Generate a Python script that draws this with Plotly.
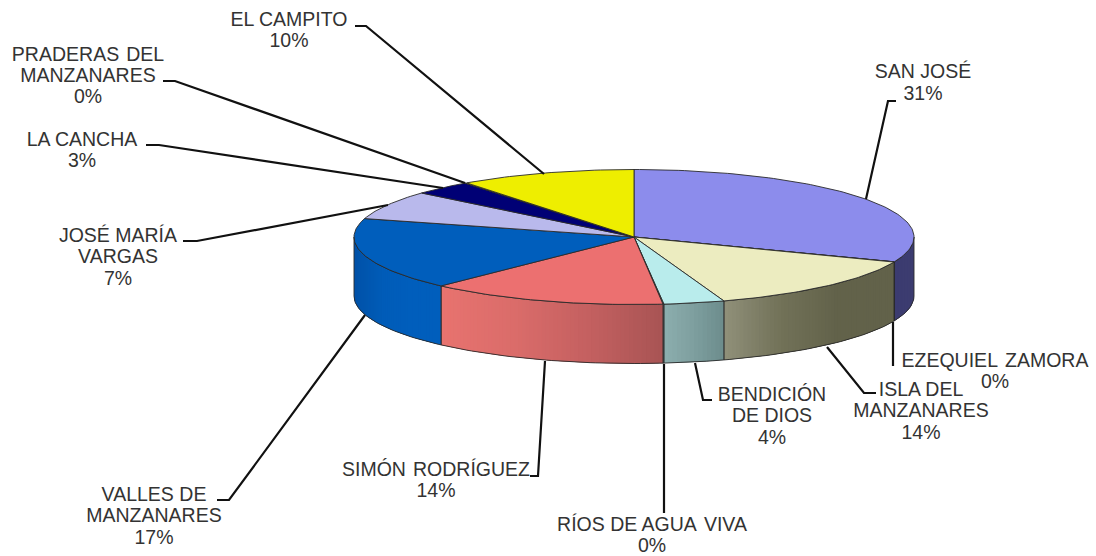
import math
import plotly.graph_objects as go

# ---- data (clockwise from twelve o'clock) ----
GAP = "\u00a0\u200a"
names = [["SAN JOSÉ"], ["EZEQUIEL" + GAP + "ZAMORA"], ["ISLA DEL", "MANZANARES"],
         ["BENDICIÓN", "DE DIOS"], ["RÍOS DE AGUA" + GAP + "VIVA"], ["SIMÓN" + GAP + "RODRÍGUEZ"],
         ["VALLES DE", "MANZANARES"], ["JOSÉ MARÍA", "VARGAS"], ["LA CANCHA"],
         ["PRADERAS" + GAP + "DEL", "MANZANARES"], ["EL CAMPITO"]]
values = [31.0, 0.05, 13.75, 3.5, 0.05, 13.75, 17.3, 6.9, 3.4, 0.1, 10.2]

top_colors = ["#8C8CEC", "#3C3C70", "#ECECC0", "#B9ECEC", "#8AABAB", "#EC7070",
              "#005EBC", "#B9B9EC", "#000075", "#8C8CEC", "#EEEE00"]
# side gradient, left-to-right stops across each visible wall
side_stops = [["#3C3C70", "#3C3C70"], ["#3C3C70", "#3C3C70"],
              ["#90907A", "#727258", "#62624A", "#62624A"],
              ["#8CAEAE", "#7E9F9F", "#6C8C8C"], ["#7E9F9F", "#7E9F9F"],
              ["#E8736F", "#DA6C6A", "#C46060", "#A85454"],
              ["#0052A8", "#005CB8", "#005EBC", "#005EBC"],
              ["#B9B9EC", "#B9B9EC"], ["#000075", "#000075"],
              ["#8C8CEC", "#8C8CEC"], ["#EEEE00", "#EEEE00"]]

# pie geometry (pixels of the 1096x556 plot area)
CX, CY, RX, RY, DEPTH = 634, 237, 280, 67.5, 59

# label placement: centre x, and the y of each text line
label_x = [923, 995, 921, 772, 652, 436, 154, 118, 82, 88, 289]
label_y = [[73, 95], [362, 383], [391, 412, 434], [396, 417, 439], [526, 547], [471, 492],
           [496, 517, 539], [237, 258, 280], [141, 162], [56, 77, 98], [21, 42]]
leaders = [[(896, 101), (888, 101), (866, 199)],
           [(893, 322), (893, 366)],
           [(827, 347), (864, 393), (876, 393)],
           [(695, 363), (703, 400), (712, 400)],
           [(664, 364), (664, 513)],
           [(545, 361), (538, 476), (530, 476)],
           [(365, 315), (229, 500), (217, 500)],
           [(388, 205), (197, 241), (183, 241)],
           [(443, 188), (159, 145), (146, 145)],
           [(465, 183), (175, 81), (163, 81)],
           [(544, 174), (366, 26), (355, 26)]]


def ell(t, dy=0.0):
    return CX + RX * math.sin(t), CY - RY * math.cos(t) + dy


def hex2rgb(h):
    return tuple(int(h[i:i + 2], 16) for i in (1, 3, 5))


def grad(stops, f):
    p = f * (len(stops) - 1)
    i = min(int(p), len(stops) - 2)
    a, b = hex2rgb(stops[i]), hex2rgb(stops[i + 1])
    c = [round(a[k] + (b[k] - a[k]) * (p - i)) for k in range(3)]
    return f"rgb({c[0]},{c[1]},{c[2]})"


def poly(fig, pts, fill, line, width):
    fig.add_trace(go.Scatter(x=[p[0] for p in pts] + [pts[0][0]], y=[p[1] for p in pts] + [pts[0][1]],
                             mode="lines", fill="toself", fillcolor=fill,
                             line=dict(color=line, width=width), hoverinfo="skip", showlegend=False))


fig = go.Figure()
total = sum(values)
edges = [0.0]
for v in values:
    edges.append(edges[-1] + v / total * 2 * math.pi)

# walls of the front half; each strip overlaps the next to avoid seams
for i in range(len(values)):
    a, b = max(edges[i], math.pi / 2), min(edges[i + 1], 3 * math.pi / 2)
    if b <= a:
        continue
    xl, xr = min(ell(a)[0], ell(b)[0]), max(ell(a)[0], ell(b)[0])
    n = max(2, int((b - a) / 0.015))
    for k in range(n):
        t0 = a + (b - a) * k / n
        t1 = min(b, a + (b - a) * (k + 3) / n)
        tm = a + (b - a) * (k + 0.5) / n
        f = (ell(tm)[0] - xl) / max(xr - xl, 1e-6)
        c = grad(side_stops[i], f)
        ts = [t0 + (t1 - t0) * j / 4 for j in range(5)]
        poly(fig, [ell(t) for t in ts] + [ell(t, DEPTH) for t in reversed(ts)], c, c, 0)
    m = max(2, int((b - a) / 0.02))
    ts = [a + (b - a) * k / m for k in range(m + 1)]
    loop = [ell(t) for t in ts] + [ell(t, DEPTH) for t in reversed(ts)] + [ell(a)]
    fig.add_trace(go.Scatter(x=[p[0] for p in loop], y=[p[1] for p in loop], mode="lines",
                             line=dict(color="#2a2a2a", width=0.9), hoverinfo="skip", showlegend=False))

# top faces
for i in range(len(values)):
    a, b = edges[i], edges[i + 1]
    m = max(2, int((b - a) / 0.02))
    pts = [(CX, CY)] + [ell(a + (b - a) * k / m) for k in range(m + 1)]
    poly(fig, pts, top_colors[i], "#2a2a2a", 0.9)

# leader lines
for seg in leaders:
    fig.add_trace(go.Scatter(x=[p[0] for p in seg], y=[p[1] for p in seg], mode="lines",
                             line=dict(color="#111111", width=2.2), hoverinfo="skip", showlegend=False))

# labels: one text point per line
tx, ty, tt = [], [], []
for name, v, x, ys in zip(names, values, label_x, label_y):
    lines = list(name) + [f"{round(v)}%"]
    for line, y in zip(lines, ys):
        tx.append(x)
        ty.append(y)
        tt.append(line)
fig.add_trace(go.Scatter(x=tx, y=ty, text=tt, mode="text", textposition="middle center",
                         textfont=dict(family="Liberation Sans", size=19.5, color="#333333"),
                         hoverinfo="skip", showlegend=False))

fig.update_layout(width=1096, height=556, margin=dict(l=0, r=0, t=0, b=0),
                  paper_bgcolor="white", plot_bgcolor="white",
                  xaxis=dict(range=[0, 1096], visible=False, fixedrange=True),
                  yaxis=dict(range=[556, 0], visible=False, fixedrange=True))
fig.write_html("out.html", config={"displayModeBar": False},
               post_script="document.body.style.margin='0';document.body.style.overflow='hidden';")
